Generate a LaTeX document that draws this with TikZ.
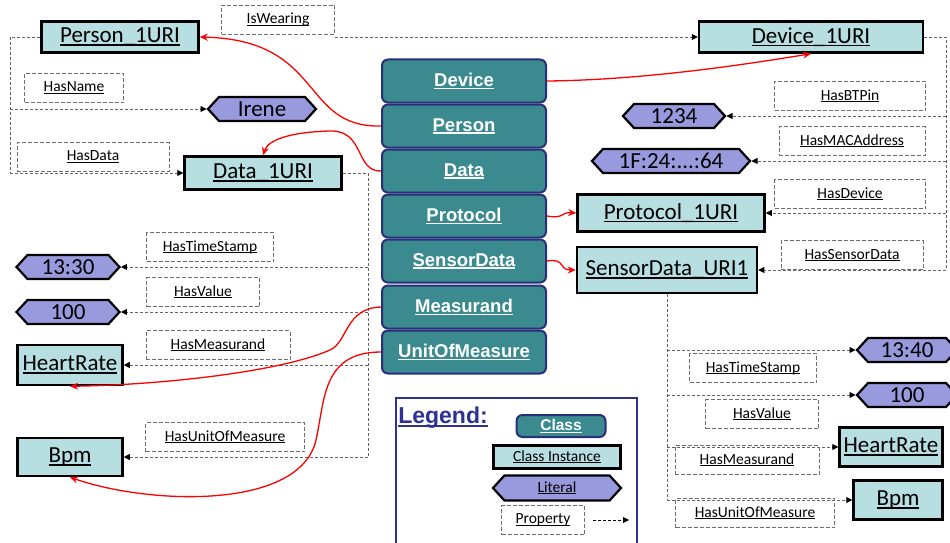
\documentclass[tikz,border=0pt]{standalone}
\usepackage{fontspec}
\setmainfont{Carlito}
\newfontfamily\classfont{Liberation Sans}
\usetikzlibrary{shapes.symbols,arrows.meta}
\newcommand{\ulabel}[1]{\leavevmode\setbox0\hbox{#1}\rlap{\rule[-0.13em]{\wd0}{0.065em}}\box0}

\begin{document}
\begin{tikzpicture}[x=1pt,y=-1pt,
    instbox/.style={shape=rectangle,draw=black,line width=2.5pt,fill=onto_instbg,inner sep=0pt,font=\fontsize{23}{25}\selectfont},
    litbox/.style={shape=signal,signal to=east and west,signal pointer angle=95,draw=black,line width=2.2pt,fill=onto_litbg,inner sep=0pt,minimum height=24pt,font=\fontsize{23}{25}\selectfont},
    classbox/.style={shape=rectangle,rounded corners=6pt,draw=onto_classline,line width=2pt,fill=onto_classbg,text=white,minimum width=164pt,minimum height=43pt,font=\classfont\bfseries\fontsize{18.5}{20}\selectfont},
    propbox/.style={shape=rectangle,draw=onto_propline,dash pattern=on 4pt off 2pt,line width=0.8pt,inner sep=0pt,minimum height=29pt,font=\fontsize{15.5}{17}\selectfont},
    propline/.style={draw=onto_linkline,dash pattern=on 3pt off 2pt,line width=0.9pt},
    proparrow/.style={propline,-{Triangle[length=6pt,width=6pt,color=black]}},
    classarrow/.style={draw=red,line width=1.3pt,-{Stealth[length=8pt,width=7pt]}}]
    \definecolor{onto_instbg}{RGB}{183,222,225}
    \definecolor{onto_litbg}{RGB}{153,153,221}
    \definecolor{onto_classbg}{RGB}{58,138,143}
    \definecolor{onto_classline}{RGB}{42,47,122}
    \definecolor{onto_legend}{RGB}{46,49,146}
    \definecolor{onto_propline}{RGB}{110,110,110}
    \definecolor{onto_linkline}{RGB}{100,100,100}
    \useasboundingbox (0,0) rectangle (950,543);

    % classes
    \node[classbox] (cDevice)     at (464,81)  {\ulabel{Device}};
    \node[classbox] (cPerson)     at (464,126) {\ulabel{Person}};
    \node[classbox] (cData)       at (464,171) {\ulabel{Data}};
    \node[classbox] (cProtocol)   at (464,216) {\ulabel{Protocol}};
    \node[classbox] (cSensorData) at (464,261) {\ulabel{SensorData}};
    \node[classbox] (cMeasurand)  at (464,307) {\ulabel{Measurand}};
    \node[classbox] (cUnit)       at (464,352) {\ulabel{UnitOfMeasure}};

    % class instances
    \node[instbox,minimum width=157pt,minimum height=31pt] (iPerson)     at (120,37)  {\ulabel{Person\_1URI}};
    \node[instbox,minimum width=224pt,minimum height=31pt] (iDevice)     at (811,37)  {\ulabel{Device\_1URI}};
    \node[instbox,minimum width=157pt,minimum height=33pt] (iData)       at (263,173) {\ulabel{Data\_1URI}};
    \node[instbox,minimum width=187pt,minimum height=37pt] (iProtocol)   at (671,213) {\ulabel{Protocol\_1URI}};
    \node[instbox,minimum width=180pt,minimum height=46pt] (iSensorData) at (667,270) {\ulabel{SensorData\_URI1}};
    \node[instbox,minimum width=105pt,minimum height=40pt] (iHeartL)     at (70,365)  {\ulabel{HeartRate}};
    \node[instbox,minimum width=105pt,minimum height=38pt] (iBpmL)       at (70,457)  {\ulabel{Bpm}};
    \node[instbox,minimum width=103pt,minimum height=39pt] (iHeartR)     at (891,447) {\ulabel{HeartRate}};
    \node[instbox,minimum width=89pt,minimum height=39pt]  (iBpmR)       at (898,500) {\ulabel{Bpm}};

    % literals
    \node[litbox,minimum width=108pt] (lIrene) at (262,109) {Irene};
    \node[litbox,minimum width=102pt] (lPin)   at (674,116) {1234};
    \node[litbox,minimum width=158pt] (lMac)   at (671,161) {1F:24:...:64};
    \node[litbox,minimum width=103pt] (lTimeL) at (68,267)  {13:30};
    \node[litbox,minimum width=103pt] (lValL)  at (68,312)  {100};
    \node[litbox,minimum width=100pt] (lTimeR) at (907,350) {13:40};
    \node[litbox,minimum width=100pt] (lValR)  at (907,395) {100};

    % properties
    \node[propbox,minimum width=113pt] (pIsWearing) at (278,20)  {\ulabel{IsWearing}};
    \node[propbox,minimum width=99pt]  (pName)      at (74,88)   {\ulabel{HasName}};
    \node[propbox,minimum width=152pt] (pData)      at (93,157)  {\ulabel{HasData}};
    \node[propbox,minimum width=127pt] (pTimeL)     at (210,247) {\ulabel{HasTimeStamp}};
    \node[propbox,minimum width=113pt] (pValL)      at (203,292) {\ulabel{HasValue}};
    \node[propbox,minimum width=144pt] (pMeasL)     at (218,345) {\ulabel{HasMeasurand}};
    \node[propbox,minimum width=159pt] (pUnitL)     at (225,437) {\ulabel{HasUnitOfMeasure}};
    \node[propbox,minimum width=151pt] (pPin)       at (850,96)  {\ulabel{HasBTPin}};
    \node[propbox,minimum width=146pt] (pMac)       at (852,141) {\ulabel{HasMACAddress}};
    \node[propbox,minimum width=151pt] (pDevice)    at (850,194) {\ulabel{HasDevice}};
    \node[propbox,minimum width=142pt] (pSensor)    at (852,255) {\ulabel{HasSensorData}};
    \node[propbox,minimum width=127pt] (pTimeR)     at (753,368) {\ulabel{HasTimeStamp}};
    \node[propbox,minimum width=113pt] (pValR)      at (762,414) {\ulabel{HasValue}};
    \node[propbox,minimum width=144pt] (pMeasR)     at (747,460) {\ulabel{HasMeasurand}};
    \node[propbox,minimum width=159pt] (pUnitR)     at (755,513) {\ulabel{HasUnitOfMeasure}};

    % property links
    \coordinate (busPerson) at (10,37);
    \draw[propline] (iPerson.west) -- (busPerson) -- (busPerson |- iData.west);
    \draw[proparrow] (busPerson |- lIrene.west) -- (lIrene.west);
    \draw[proparrow] (busPerson |- iData.west) -- (iData.west);
    \draw[proparrow] (pIsWearing.east |- iPerson.east) -- (iDevice.west);

    \coordinate (busDevice) at (946,37);
    \draw[propline] (iDevice.east) -- (busDevice) -- (busDevice |- iSensorData.east);
    \draw[proparrow] (busDevice |- lPin.east) -- (lPin.east);
    \draw[proparrow] (busDevice |- lMac.east) -- (lMac.east);
    \draw[proparrow] (busDevice |- iProtocol.east) -- (iProtocol.east);
    \draw[proparrow] (busDevice |- iSensorData.east) -- (iSensorData.east);

    \coordinate (busData) at (368,173);
    \draw[propline] (iData.east) -- (busData) -- (busData |- iBpmL.east);
    \draw[proparrow] (busData |- lTimeL.east) -- (lTimeL.east);
    \draw[proparrow] (busData |- lValL.east) -- (lValL.east);
    \draw[proparrow] (busData |- iHeartL.east) -- (iHeartL.east);
    \draw[proparrow] (busData |- iBpmL.east) -- (iBpmL.east);

    \draw[propline] (iSensorData.south) -- (iSensorData.south |- iBpmR.west);
    \draw[proparrow] (iSensorData.south |- lTimeR.west) -- (lTimeR.west);
    \draw[proparrow] (iSensorData.south |- lValR.west) -- (lValR.west);
    \draw[proparrow] (iSensorData.south |- iHeartR.west) -- (iHeartR.west);
    \draw[proparrow] (iSensorData.south |- iBpmR.west) -- (iBpmR.west);

    % instance-of links
    \draw[classarrow] (cDevice.east) .. controls (650,80) and (760,62) .. (iDevice.south);
    \draw[classarrow] (cPerson.west) .. controls (300,128) and (325,40) .. (iPerson.east);
    \draw[classarrow] (cData.west) .. controls (355,172) and (365,130) .. (330,131) .. controls (290,132) and (268,140) .. (iData.north);
    \draw[classarrow] (cProtocol.east) .. controls (565,219) and (560,212) .. (iProtocol.west);
    \draw[classarrow] (cSensorData.east) .. controls (566,258) and (558,270) .. (iSensorData.west);
    \draw[classarrow] (cMeasurand.west) .. controls (345,308) and (348,342) .. (330,350) .. controls (280,372) and (160,385) .. (iHeartL.south);
    \draw[classarrow] (cUnit.west) .. controls (322,352) and (325,400) .. (316,440) .. controls (300,510) and (150,505) .. (iBpmL.south);

    % legend
    \node[draw=onto_legend,line width=2pt,shape=rectangle,minimum width=241pt,minimum height=150pt] (legend) at (516,473) {};
    \node[text=onto_legend,font=\classfont\bfseries\fontsize{23}{25}\selectfont] (legendTitle) at (443,418) {\ulabel{Legend:}};
    \node[classbox,minimum width=89pt,minimum height=22pt,font=\classfont\bfseries\fontsize{15.5}{17}\selectfont] (lgClass) at (561,426) {\ulabel{Class}};
    \node[instbox,minimum width=127pt,minimum height=23pt,font=\fontsize{15.5}{17}\selectfont] (lgInst) at (557,457) {\ulabel{Class Instance}};
    \node[litbox,minimum width=128pt,minimum height=25pt,font=\fontsize{15.5}{17}\selectfont] (lgLit) at (557,488) {\ulabel{Literal}};
    \node[propbox,minimum width=83pt,font=\fontsize{15.5}{17}\selectfont] (lgProp) at (543,520) {\ulabel{Property}};
    \coordinate (lgArrowEnd) at (629,520);
    \draw[proparrow,draw=black] ([xshift=8pt]lgProp.east) -- (lgArrowEnd);
\end{tikzpicture}
\end{document}
